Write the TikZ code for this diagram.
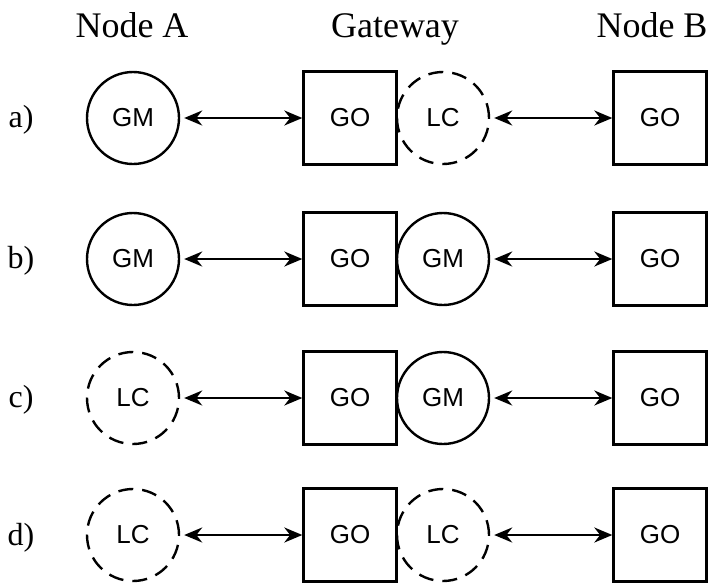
\documentclass[tikz,border=0pt]{standalone}
\usepackage{fontspec}
\setmainfont{Liberation Serif}
\newfontfamily\arialfont{Liberation Sans}
\usetikzlibrary{arrows.meta,positioning}

\tikzset{
  unit/.style={circle, draw, line width=1.2pt, minimum size=46pt, inner sep=0pt, font=\arialfont\fontsize{13}{15}\selectfont},
  lcunit/.style={unit, dash pattern=on 7.5pt off 4.5pt},
  gobox/.style={rectangle, draw, line width=1.2pt, minimum size=46.5pt, inner sep=0pt, font=\arialfont\fontsize{13}{15}\selectfont},
  head/.style={anchor=base, font=\fontsize{18}{22}\selectfont},
  rowlabel/.style={anchor=base, font=\fontsize{16}{19}\selectfont},
  link/.style={line width=1.2pt, {Stealth[length=9pt,width=7.5pt]}-{Stealth[length=9pt,width=7.5pt]}, shorten <=2pt},
}

\begin{document}
\begin{tikzpicture}[x=0.5pt, y=-0.5pt]
    \useasboundingbox (0,0) rectangle (717,584);
    % headers
    \node[head] (hA) at (132,37) {Node A};
    \node[head] (hG) at (395,37) {Gateway};
    \node[head] (hB) at (652,37) {Node B};

    % row a
    \node[rowlabel] (la) at (21,127) {a)};
    \node[unit] (a1) at (133,118) {GM};
    \node[gobox] (a2) at (350,118) {GO};
    \node[lcunit] (a3) at (443,118) {LC};
    \node[gobox] (a4) at (660,118) {GO};
    \draw[link] (a1) -- (a2);
    \draw[link] (a3) -- (a4);

    % row b
    \node[rowlabel] (lb) at (21,268) {b)};
    \node[unit] (b1) at (133,259) {GM};
    \node[gobox] (b2) at (350,259) {GO};
    \node[unit] (b3) at (443,259) {GM};
    \node[gobox] (b4) at (660,259) {GO};
    \draw[link] (b1) -- (b2);
    \draw[link] (b3) -- (b4);

    % row c
    \node[rowlabel] (lc) at (21,407) {c)};
    \node[lcunit] (c1) at (133,398) {LC};
    \node[gobox] (c2) at (350,398) {GO};
    \node[unit] (c3) at (443,398) {GM};
    \node[gobox] (c4) at (660,398) {GO};
    \draw[link] (c1) -- (c2);
    \draw[link] (c3) -- (c4);

    % row d
    \node[rowlabel] (ld) at (21,545) {d)};
    \node[lcunit] (d1) at (133,535) {LC};
    \node[gobox] (d2) at (350,535) {GO};
    \node[lcunit] (d3) at (443,535) {LC};
    \node[gobox] (d4) at (660,535) {GO};
    \draw[link] (d1) -- (d2);
    \draw[link] (d3) -- (d4);
\end{tikzpicture}
\end{document}
